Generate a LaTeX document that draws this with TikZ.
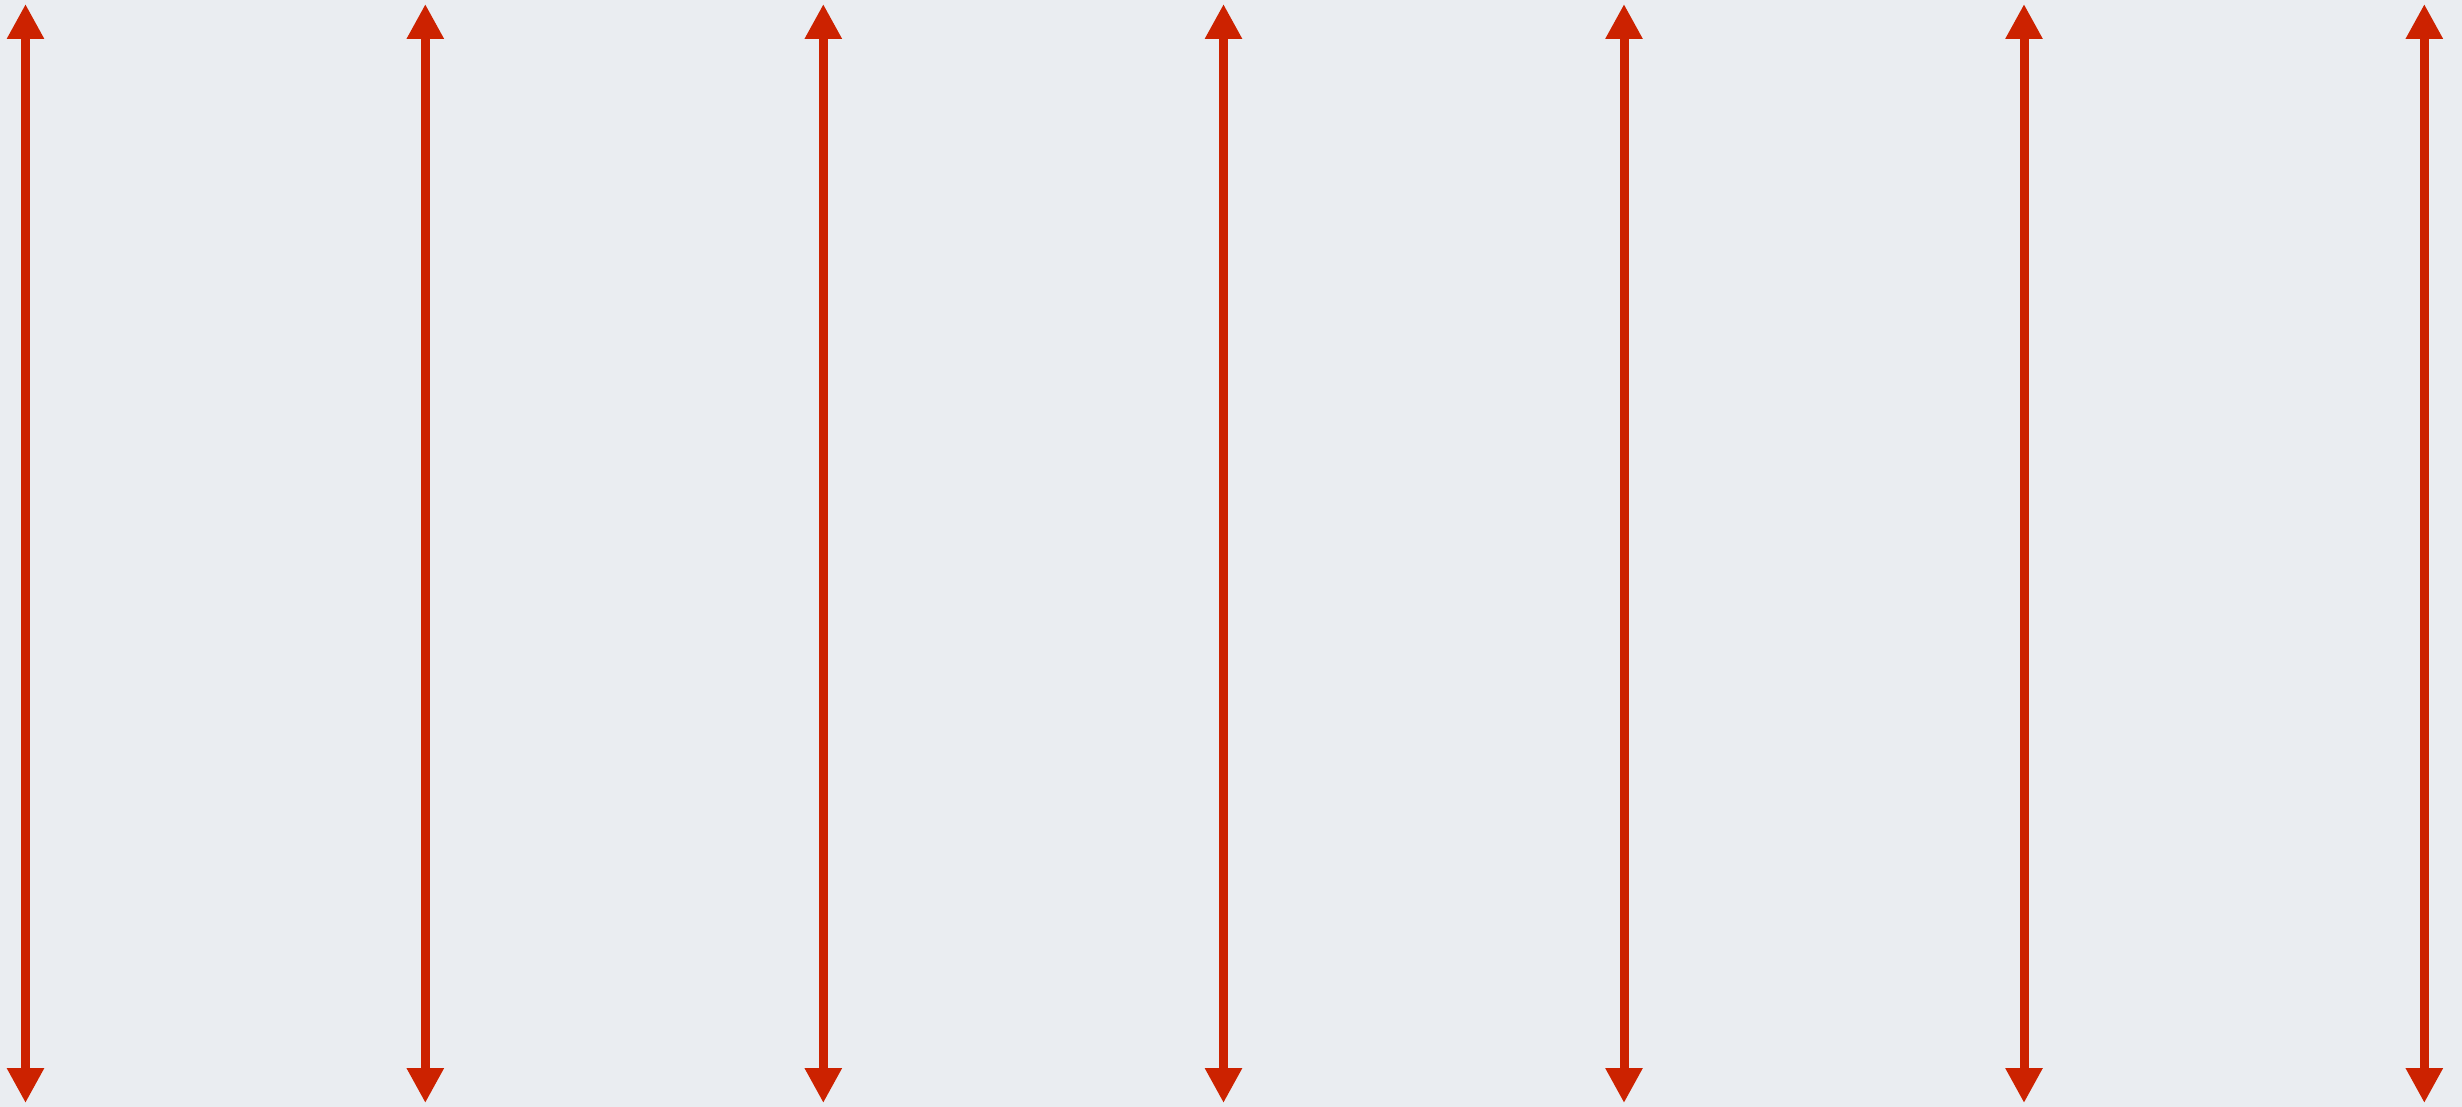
\documentclass[tikz,border=0pt]{standalone}
\usetikzlibrary{arrows.meta}
\definecolor{bgc}{HTML}{EAEDF1}
\definecolor{arrowred}{HTML}{CC2200}
\tikzset{
  dblarrow/.style={draw=arrowred, line width=9pt,
    {Triangle[width=35pt,length=35pt]}-{Triangle[width=35pt,length=35pt]}}
}
\begin{document}
\begin{tikzpicture}[x=1pt,y=-1pt]
\fill[bgc] (0,0) rectangle (2462,1107);
\useasboundingbox (0,0) rectangle (2462,1107);
\foreach \i/\x in {1/25.5,2/425.3,3/823.3,4/1223.5,5/1624,6/2024,7/2424.3}{
  \coordinate (t\i) at (\x,4);
  \coordinate (b\i) at (\x,1103);
  \draw[dblarrow] (t\i) -- (b\i);
}
\end{tikzpicture}
\end{document}
